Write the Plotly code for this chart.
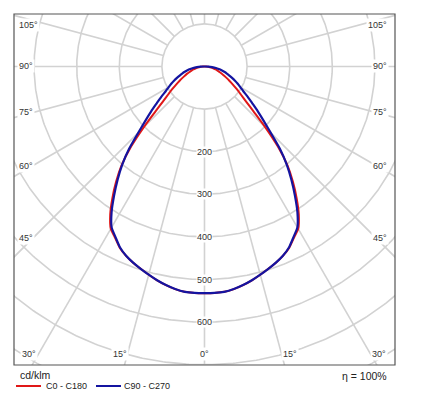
import numpy as np
import plotly.graph_objects as go

# ---------------- data (cd/klm vs. angle from nadir, symmetric) ----------------
gamma_deg = [0, 2.5, 5, 7.5, 10, 12.5, 15, 17.5, 20, 22.5, 25, 27.5, 30, 32.5, 35, 37.5,
             40, 42.5, 45, 47.5, 50, 52.5, 55, 57.5, 60, 62.5, 65, 67.5, 70, 72.5, 75,
             77.5, 80, 82.5, 85, 87.5, 90]
c0_c180 = [532, 532, 531, 527, 521, 514, 506, 498, 490, 481, 470, 454, 440, 412, 377, 341,
           303, 255, 202, 156, 127, 107, 92, 79, 68, 59, 51, 44, 37, 32, 27,
           22, 18, 13, 9, 4, 0]
c90_c270 = [532, 532, 531, 527, 521, 514, 506, 498, 490, 481, 469, 452, 436, 406, 370, 335,
            300, 262, 220, 188, 163, 141, 124, 108, 97, 88, 79, 70, 62, 55, 48,
            41, 34, 27, 18, 9, 0]

ring_values = [100, 200, 300, 400, 500, 600, 700, 800]
ring_label_values = [200, 300, 400, 500, 600]
spoke_angles = list(range(0, 181, 15))

side_labels = ["105°", "90°", "75°", "60°", "45°", "30°"]
bottom_labels = ["15°", "0°", "15°"]
series_names = ["C0 - C180", "C90 - C270"]
unit_text = "cd/klm"
eta_text = "η = 100%"

# ---------------- geometry (page pixels; the page body adds an 8px margin) ----------------
OFF = 8
W, H = 424 - OFF, 398 - OFF
L, T, R, B = 14 - OFF, 14 - OFF, 395 - OFF, 365 - OFF
CX, CY = 204.5 - OFF, 66.5 - OFF
S = 0.426  # px per cd/klm

xr = [(L - CX) / S, (R - CX) / S]
yr = [(CY - B) / S, (CY - T) / S]


def pxx(p):
    return (p - OFF - L) / (R - L)


def pxy(p):
    return (B - (p - OFF)) / (B - T)


GRID = "#d2d2d2"
TXT = "#333333"
FONT = "Liberation Sans, Arial, sans-serif"

fig = go.Figure()

# rings
th = np.linspace(0, 2 * np.pi, 721)
for rv in ring_values:
    fig.add_trace(go.Scatter(x=rv * np.cos(th), y=rv * np.sin(th), mode="lines",
                             line=dict(color=GRID, width=1.6), hoverinfo="skip",
                             showlegend=False))

# spokes
for a in spoke_angles:
    g = np.radians(a)
    for sgn in ([1] if a in (0, 180) else [-1, 1]):
        fig.add_trace(go.Scatter(x=[sgn * 100 * np.sin(g), sgn * 1200 * np.sin(g)],
                                 y=[-100 * np.cos(g), -1200 * np.cos(g)], mode="lines",
                                 line=dict(color=GRID, width=1.6), hoverinfo="skip",
                                 showlegend=False))


def curve(vals):
    g = np.radians(np.array(gamma_deg, dtype=float))
    r = np.array(vals, dtype=float)
    xl = -(r * np.sin(g))[::-1]
    yl = -(r * np.cos(g))[::-1]
    xr_ = (r * np.sin(g))[1:]
    yr_ = -(r * np.cos(g))[1:]
    return np.concatenate([xl, xr_]), np.concatenate([yl, yr_])


x0, y0 = curve(c0_c180)
x1, y1 = curve(c90_c270)
RED = "#e01818"
BLUE = "#1414a0"
fig.add_trace(go.Scatter(x=x0, y=y0, mode="lines", name=series_names[0],
                         line=dict(color=RED, width=2, shape="spline", smoothing=0.5),
                         showlegend=False))
fig.add_trace(go.Scatter(x=x1, y=y1, mode="lines", name=series_names[1],
                         line=dict(color=BLUE, width=2.2, shape="spline", smoothing=0.5),
                         showlegend=False))

ann = []
# ring labels
for v in ring_label_values:
    ann.append(dict(x=0, y=-v, xref="x", yref="y", text=str(v), showarrow=False,
                    font=dict(size=9, color=TXT, family=FONT), bgcolor="white",
                    borderpad=0, xanchor="center", yanchor="middle"))

# side angle labels
side_y = [25, 66, 112, 166, 238, 354]
for lab, py in zip(side_labels, side_y):
    ann.append(dict(x=pxx(17 if lab != "30°" else 20), y=pxy(py), xref="paper", yref="paper",
                    text=lab, showarrow=False, font=dict(size=9, color=TXT, family=FONT),
                    bgcolor="white", borderpad=1, xanchor="left", yanchor="middle"))
    ann.append(dict(x=pxx(389 if lab != "30°" else 388), y=pxy(py), xref="paper", yref="paper",
                    text=lab, showarrow=False, font=dict(size=9, color=TXT, family=FONT),
                    bgcolor="white", borderpad=1, xanchor="right", yanchor="middle"))
for lab, px in zip(bottom_labels, [120, 204, 290]):
    ann.append(dict(x=pxx(px), y=pxy(354), xref="paper", yref="paper", text=lab,
                    showarrow=False, font=dict(size=9, color=TXT, family=FONT),
                    bgcolor="white", borderpad=1, xanchor="center", yanchor="middle"))

# bottom texts
ann.append(dict(x=pxx(18), y=pxy(375), xref="paper", yref="paper", text=unit_text,
                showarrow=False, font=dict(size=10.5, color="#222", family=FONT),
                xanchor="left", yanchor="middle"))
ann.append(dict(x=pxx(389), y=pxy(376), xref="paper", yref="paper", text=eta_text,
                showarrow=False, font=dict(size=10.5, color="#222", family=FONT),
                xanchor="right", yanchor="middle"))
ann.append(dict(x=pxx(44), y=pxy(386), xref="paper", yref="paper", text=series_names[0],
                showarrow=False, font=dict(size=9, color="#222", family=FONT),
                xanchor="left", yanchor="middle"))
ann.append(dict(x=pxx(122), y=pxy(386), xref="paper", yref="paper", text=series_names[1],
                showarrow=False, font=dict(size=9, color="#222", family=FONT),
                xanchor="left", yanchor="middle"))

shapes = [
    dict(type="rect", xref="paper", yref="paper", x0=0, y0=0, x1=1, y1=1,
         line=dict(color="#555555", width=1.2)),
    dict(type="line", xref="paper", yref="paper", x0=pxx(16), x1=pxx(41), y0=pxy(386), y1=pxy(386),
         line=dict(color=RED, width=2)),
    dict(type="line", xref="paper", yref="paper", x0=pxx(96), x1=pxx(121), y0=pxy(386), y1=pxy(386),
         line=dict(color=BLUE, width=2)),
]

fig.update_layout(
    width=W, height=H,
    margin=dict(l=L, r=W - R, t=T, b=H - B),
    paper_bgcolor="white", plot_bgcolor="white",
    xaxis=dict(range=xr, visible=False, fixedrange=True),
    yaxis=dict(range=yr, visible=False, fixedrange=True),
    annotations=ann, shapes=shapes, showlegend=False,
)

fig.write_html("out.html")
